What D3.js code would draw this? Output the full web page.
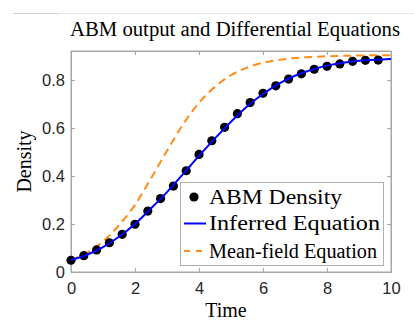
<!DOCTYPE html>
<html>
<head>
<meta charset="utf-8">
<script src="https://cdn.jsdelivr.net/npm/d3@7"></script>
<style>
  body { margin: 0; background: #fff; }
  svg { display: block; }
</style>
</head>
<body>
<div class="chart"></div>
<script>
// ABM output (points every 0.4)
const abmTime = [0, 0.4, 0.8, 1.2, 1.6, 2.0, 2.4, 2.8, 3.2, 3.6, 4.0, 4.4, 4.8,
  5.2, 5.6, 6.0, 6.4, 6.8, 7.2, 7.6, 8.0, 8.4, 8.8, 9.2, 9.6];
const abmDensity = [0.049, 0.068, 0.092, 0.122, 0.157, 0.199, 0.254, 0.306, 0.358, 0.422,
  0.49, 0.547, 0.603, 0.66, 0.706, 0.745, 0.776, 0.804, 0.826, 0.845, 0.857, 0.867,
  0.878, 0.882, 0.883];

// curves read every 0.5
const curveTime = [0, 0.5, 1, 1.5, 2, 2.5, 3, 3.5, 4, 4.5, 5, 5.5, 6, 6.5, 7, 7.5,
  8, 8.5, 9, 9.5, 10];
const inferred = [0.05, 0.072, 0.104, 0.147, 0.2, 0.265, 0.333, 0.408, 0.484, 0.557,
  0.626, 0.69, 0.742, 0.785, 0.818, 0.842, 0.86, 0.872, 0.88, 0.885, 0.888];
const meanField = [0.05, 0.08, 0.127, 0.195, 0.28, 0.39, 0.505, 0.615, 0.705, 0.772,
  0.82, 0.852, 0.872, 0.884, 0.892, 0.896, 0.899, 0.901, 0.902, 0.903, 0.903];

const xTicks = [0, 2, 4, 6, 8, 10];
const yTicks = [0, 0.2, 0.4, 0.6, 0.8];
const legendLabels = ['ABM Density', 'Inferred Equation', 'Mean-field Equation'];

const W = 414, H = 322;
const margin = { top: 51, right: 23, bottom: 50, left: 71 };
const serif = '"Liberation Serif", "Times New Roman", serif';
const sans = '"Liberation Sans", Arial, sans-serif';

const svg = d3.select('.chart').append('svg')
  .attr('width', W).attr('height', H);

// faint rule at the very top
svg.append('line').attr('x1', 58).attr('x2', 414).attr('y1', 13.5).attr('y2', 13.5)
  .attr('stroke', '#e6e6e6');
svg.append('line').attr('x1', 13).attr('x2', 58).attr('y1', 13.5).attr('y2', 13.5)
  .attr('stroke', '#cfcfcf');

const x = d3.scaleLinear().domain([0, 10]).range([margin.left, W - margin.right]);
const y = d3.scaleLinear().domain([0, 0.921]).range([H - margin.bottom, margin.top]);

const axisColor = '#a6a6a6';
const tickLen = 4;

// axes (matlab-ish box, ticks inside)
const gx = svg.append('g').attr('transform', 'translate(0,' + y(0) + ')')
  .call(d3.axisBottom(x).tickValues(xTicks).tickSize(-tickLen).tickPadding(10)
    .tickFormat(d3.format('d')));
const gxTop = svg.append('g').attr('transform', 'translate(0,' + margin.top + ')')
  .call(d3.axisTop(x).tickValues(xTicks).tickSize(-tickLen).tickFormat(''));
const gy = svg.append('g').attr('transform', 'translate(' + x(0) + ',0)')
  .call(d3.axisLeft(y).tickValues(yTicks).tickSize(-tickLen).tickPadding(6)
    .tickFormat(d => d === 0 ? '0' : d3.format('.1f')(d)));
const gyRight = svg.append('g').attr('transform', 'translate(' + x(10) + ',0)')
  .call(d3.axisRight(y).tickValues(yTicks).tickSize(-tickLen).tickFormat(''));

[gx, gxTop, gy, gyRight].forEach(g => {
  g.select('.domain').attr('stroke', axisColor).attr('stroke-width', 1);
  g.selectAll('.tick line').attr('stroke', axisColor);
  g.selectAll('.tick text').attr('fill', '#262626')
    .style('font-family', sans).style('font-size', '16.5px');
});
// domain paths leave the end caps; redraw the full box cleanly
svg.append('rect')
  .attr('x', x(0)).attr('y', y(0.921))
  .attr('width', x(10) - x(0)).attr('height', y(0) - y(0.921))
  .attr('fill', 'none').attr('stroke', axisColor);

// mean-field dashed line
const line = d3.line()
  .x((d, i) => x(curveTime[i]))
  .y(d => y(d))
  .curve(d3.curveMonotoneX);

svg.append('path')
  .datum(meanField)
  .attr('fill', 'none')
  .attr('stroke', '#ff8c1a')
  .attr('stroke-width', 2)
  .attr('stroke-dasharray', '8,5')
  .attr('d', line);

// ABM points
svg.selectAll('circle.abm')
  .data(abmDensity)
  .enter()
  .append('circle')
  .attr('class', 'abm')
  .attr('cx', (d, i) => x(abmTime[i]))
  .attr('cy', d => y(d))
  .attr('r', 4.6)
  .attr('fill', '#000');

// inferred equation
svg.append('path')
  .datum(inferred)
  .attr('fill', 'none')
  .attr('stroke', '#0000ff')
  .attr('stroke-width', 2)
  .attr('d', line);

// title and labels
svg.append('text')
  .attr('x', 235).attr('y', 35.5)
  .attr('text-anchor', 'middle')
  .attr('textLength', 330).attr('lengthAdjust', 'spacingAndGlyphs')
  .style('font-family', serif).style('font-size', '20px').attr('fill', '#000')
  .text('ABM output and Differential Equations');

svg.append('text')
  .attr('x', 226).attr('y', 316.5)
  .attr('text-anchor', 'middle')
  .style('font-family', serif).style('font-size', '20px').attr('fill', '#000')
  .text('Time');

svg.append('text')
  .attr('transform', 'translate(31,161.5) rotate(-90)')
  .attr('text-anchor', 'middle')
  .style('font-family', serif).style('font-size', '20px').attr('fill', '#000')
  .text('Density');

// legend
const legend = svg.append('g');
legend.append('rect')
  .attr('x', 180.5).attr('y', 182.5).attr('width', 203).attr('height', 83)
  .attr('fill', '#fff').attr('stroke', '#b0b0b0');

const rowY = [197, 223.5, 251];
legend.append('circle').attr('cx', 194).attr('cy', rowY[0]).attr('r', 4.6).attr('fill', '#000');
legend.append('line').attr('x1', 184).attr('x2', 206).attr('y1', rowY[1]).attr('y2', rowY[1])
  .attr('stroke', '#0000ff').attr('stroke-width', 2);
legend.append('line').attr('x1', 184).attr('x2', 206).attr('y1', rowY[2]).attr('y2', rowY[2])
  .attr('stroke', '#ff8c1a').attr('stroke-width', 2).attr('stroke-dasharray', '6,6');

const legendWidths = [133, 171, 168];
legend.selectAll('text.lg')
  .data(legendLabels)
  .enter()
  .append('text')
  .attr('class', 'lg')
  .attr('x', 209)
  .attr('y', (d, i) => rowY[i] + 6.5)
  .attr('textLength', (d, i) => legendWidths[i])
  .attr('lengthAdjust', 'spacingAndGlyphs')
  .style('font-family', serif).style('font-size', '20px').attr('fill', '#000')
  .text(d => d);
</script>
</body>
</html>
